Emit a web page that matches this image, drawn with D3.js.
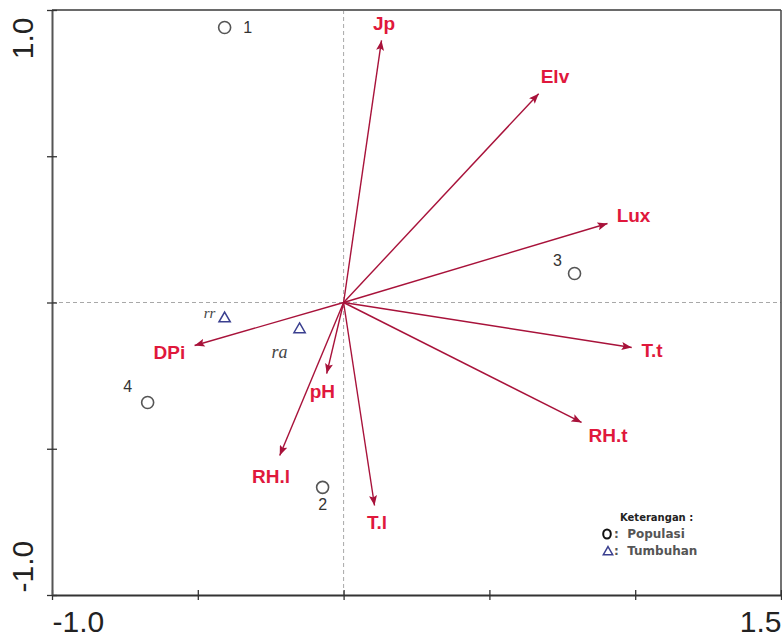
<!DOCTYPE html>
<html>
<head>
<meta charset="utf-8">
<script src="https://cdn.jsdelivr.net/npm/d3@7"></script>
<style>
  html, body { margin: 0; padding: 0; background: #fff; }
  svg { display: block; }
</style>
</head>
<body>
<div id="chart-container"></div>
<script>
// environmental vectors (biplot arrows)
const envNames = ['Jp', 'Elv', 'Lux', 'T.t', 'RH.t', 'DPi', 'pH', 'RH.l', 'T.l']
const envX = [0.13, 0.669, 0.905, 0.988, 0.816, -0.511, -0.058, -0.219, 0.106]
const envY = [0.896, 0.714, 0.27, -0.154, -0.41, -0.147, -0.243, -0.523, -0.694]

// populations (circles)
const popNames = ['1', '2', '3', '4']
const popX = [-0.408, -0.072, 0.792, -0.672]
const popY = [0.94, -0.632, 0.099, -0.342]

// plants (triangles)
const plantNames = ['rr', 'ra']
const plantX = [-0.408, -0.151]
const plantY = [-0.055, -0.092]

// axes
const xTicks = [-1.0, -0.5, 0, 0.5, 1.0, 1.5]
const yTicks = [-1.0, -0.5, 0, 0.5, 1.0]
const xTickLabels = ['-1.0', '', '', '', '', '1.5']
const yTickLabels = ['-1.0', '', '', '', '1.0']

const legendTitle = 'Keterangan :'
const legendItems = ['Populasi', 'Tumbuhan']

const chartWidth = 782
const chartHeight = 637
const chartPadding = { top: 10, right: 1, bottom: 42, left: 52 }

// label offsets in pixels, kept apart from the data
const popLabelOffset = { '1': [23, 0], '2': [0, 17], '3': [-17, -13], '4': [-20, -16] }
const plantLabelOffset = { rr: [-15, -6], ra: [-20, 23] }

const arrowColor = '#a8123a'
const envLabelColor = '#e0183c'

const svg = d3
  .select('#chart-container')
  .append('svg')
  .attr('width', chartWidth)
  .attr('height', chartHeight)

const xScale = d3
  .scaleLinear()
  .domain([-1.0, 1.5])
  .range([chartPadding.left, chartWidth - chartPadding.right])

const yScale = d3
  .scaleLinear()
  .domain([-1.0, 1.0])
  .range([chartHeight - chartPadding.bottom, chartPadding.top])

const x0 = xScale(0)
const y0 = yScale(0)

// zero lines
svg.append('line')
  .attr('x1', x0).attr('x2', x0)
  .attr('y1', yScale(1)).attr('y2', yScale(-1))
  .attr('stroke', '#a8a8a8').attr('stroke-width', 1).attr('stroke-dasharray', '4,3')
svg.append('line')
  .attr('x1', xScale(-1)).attr('x2', xScale(1.5))
  .attr('y1', y0).attr('y2', y0)
  .attr('stroke', '#a8a8a8').attr('stroke-width', 1).attr('stroke-dasharray', '4,3')

// frame top + right
svg.append('line')
  .attr('x1', xScale(-1)).attr('x2', xScale(1.5))
  .attr('y1', yScale(1)).attr('y2', yScale(1))
  .attr('stroke', '#6a6a6a').attr('stroke-width', 2)
svg.append('line')
  .attr('x1', xScale(1.5)).attr('x2', xScale(1.5))
  .attr('y1', yScale(1)).attr('y2', yScale(-1))
  .attr('stroke', '#444').attr('stroke-width', 1.5)

// axes
const drawAxes = () => {
  const xAxis = d3.axisBottom(xScale)
    .tickValues(xTicks)
    .tickSize(0)
    .tickFormat((d, i) => xTickLabels[i])

  const gx = svg.append('g')
    .attr('transform', `translate(0,${yScale(-1)})`)
    .call(xAxis)
  gx.select('.domain').attr('stroke', '#333').attr('stroke-width', 2)
  gx.selectAll('.tick line').attr('y1', -5).attr('y2', 5).attr('stroke', '#333').attr('stroke-width', 1.3)
  gx.selectAll('.tick text')
    .attr('y', 37).attr('dy', 0)
    .attr('text-anchor', (d, i) => (i === 0 ? 'start' : 'end'))
    .attr('font-family', '"Liberation Sans", Arial, sans-serif')
    .attr('font-size', 30)
    .attr('fill', '#222')

  const yAxis = d3.axisLeft(yScale)
    .tickValues(yTicks)
    .tickSize(0)
    .tickFormat((d, i) => yTickLabels[i])

  const gy = svg.append('g')
    .attr('transform', `translate(${xScale(-1)},0)`)
    .call(yAxis)
  gy.select('.domain').attr('stroke', '#555').attr('stroke-width', 2)
  gy.selectAll('.tick line').attr('x1', -5).attr('x2', 5).attr('stroke', '#333').attr('stroke-width', 1.3)
  gy.selectAll('.tick text')
    .attr('transform', 'rotate(-90)')
    .attr('x', (d, i) => (i === 0 ? 3 : -7))
    .attr('y', -19)
    .attr('dy', 0)
    .attr('text-anchor', (d, i) => (i === 0 ? 'start' : 'end'))
    .attr('font-family', '"Liberation Sans", Arial, sans-serif')
    .attr('font-size', 30)
    .attr('fill', '#222')
}

drawAxes()

// arrowhead marker
svg.append('defs')
  .append('marker')
  .attr('id', 'arrowhead')
  .attr('viewBox', '0 0 10 8')
  .attr('refX', 10)
  .attr('refY', 4)
  .attr('markerWidth', 11)
  .attr('markerHeight', 8)
  .attr('markerUnits', 'userSpaceOnUse')
  .attr('orient', 'auto')
  .append('path')
  .attr('d', 'M0,0 L10,4 L0,8 L2,4 Z')
  .attr('fill', arrowColor)

const envData = envNames.map((name, i) => ({ name, x: envX[i], y: envY[i] }))

const drawArrows = () => {
  svg.append('g')
    .selectAll('line')
    .data(envData)
    .enter()
    .append('line')
    .attr('x1', x0)
    .attr('y1', y0)
    .attr('x2', d => xScale(d.x))
    .attr('y2', d => yScale(d.y))
    .attr('stroke', arrowColor)
    .attr('stroke-width', 1.4)
    .attr('marker-end', 'url(#arrowhead)')

  const labels = svg.append('g')
    .selectAll('text')
    .data(envData)
    .enter()
    .append('text')
    .attr('font-family', '"Liberation Sans", Arial, sans-serif')
    .attr('font-weight', 'bold')
    .attr('font-size', 19)
    .attr('fill', envLabelColor)
    .attr('text-anchor', 'middle')
    .attr('dominant-baseline', 'central')
    .text(d => d.name)

  // push label out past the tip along the arrow direction
  labels.each(function (d) {
    const tx = xScale(d.x)
    const ty = yScale(d.y)
    const dx = tx - x0
    const dy = ty - y0
    const len = Math.hypot(dx, dy)
    const ux = dx / len
    const uy = dy / len
    const w = this.getComputedTextLength()
    const h = 14
    const half = Math.abs(ux) * w / 2 + Math.abs(uy) * h / 2
    const gap = 9
    d3.select(this)
      .attr('x', tx + ux * (gap + half))
      .attr('y', ty + uy * (gap + half))
  })
}

drawArrows()

// populations
const popData = popNames.map((name, i) => ({ name, x: popX[i], y: popY[i] }))

svg.append('g')
  .selectAll('circle')
  .data(popData)
  .enter()
  .append('circle')
  .attr('cx', d => xScale(d.x))
  .attr('cy', d => yScale(d.y))
  .attr('r', 6)
  .attr('fill', 'none')
  .attr('stroke', '#555')
  .attr('stroke-width', 1.6)

svg.append('g')
  .selectAll('text')
  .data(popData)
  .enter()
  .append('text')
  .attr('x', d => xScale(d.x) + popLabelOffset[d.name][0])
  .attr('y', d => yScale(d.y) + popLabelOffset[d.name][1])
  .attr('text-anchor', 'middle')
  .attr('dominant-baseline', 'central')
  .attr('font-family', '"Liberation Sans", Arial, sans-serif')
  .attr('font-size', 16)
  .attr('fill', '#333')
  .text(d => d.name)

// plants
const plantData = plantNames.map((name, i) => ({ name, x: plantX[i], y: plantY[i] }))
const triangle = d3.symbol().type(d3.symbolTriangle).size(55)

svg.append('g')
  .selectAll('path')
  .data(plantData)
  .enter()
  .append('path')
  .attr('d', triangle)
  .attr('transform', d => `translate(${xScale(d.x)},${yScale(d.y)})`)
  .attr('fill', 'none')
  .attr('stroke', '#3a3f8f')
  .attr('stroke-width', 1.5)

svg.append('g')
  .selectAll('text')
  .data(plantData)
  .enter()
  .append('text')
  .attr('x', d => xScale(d.x) + plantLabelOffset[d.name][0])
  .attr('y', d => yScale(d.y) + plantLabelOffset[d.name][1])
  .attr('text-anchor', 'middle')
  .attr('dominant-baseline', 'central')
  .attr('font-family', '"Liberation Serif", "Times New Roman", serif')
  .attr('font-style', 'italic')
  .attr('font-size', d => (d.name === 'rr' ? 15 : 18))
  .attr('fill', '#444')
  .text(d => d.name)

// legend
const legend = svg.append('g').attr('transform', 'translate(607,0)')
legend.append('text')
  .attr('x', 13).attr('y', 521)
  .attr('font-family', '"DejaVu Sans", sans-serif')
  .attr('font-weight', 'bold')
  .attr('font-size', 10)
  .attr('fill', '#222')
  .text(legendTitle)

legend.append('ellipse')
  .attr('cx', 0).attr('cy', 534)
  .attr('rx', 3.8).attr('ry', 4.6)
  .attr('fill', 'none')
  .attr('stroke', '#111')
  .attr('stroke-width', 2)

legend.append('path')
  .attr('d', d3.symbol().type(d3.symbolTriangle).size(38))
  .attr('transform', 'translate(1,552)')
  .attr('fill', 'none')
  .attr('stroke', '#3a3f8f')
  .attr('stroke-width', 1.5)

legend.selectAll('text.item')
  .data(legendItems)
  .enter()
  .append('text')
  .attr('class', 'item')
  .attr('x', 7)
  .attr('y', (d, i) => 538 + i * 17)
  .attr('font-family', '"DejaVu Sans", sans-serif')
  .attr('font-weight', 'bold')
  .attr('font-size', 12)
  .attr('fill', '#555')
  .attr('xml:space', 'preserve')
  .text(d => ':  ' + d)
</script>
</body>
</html>
